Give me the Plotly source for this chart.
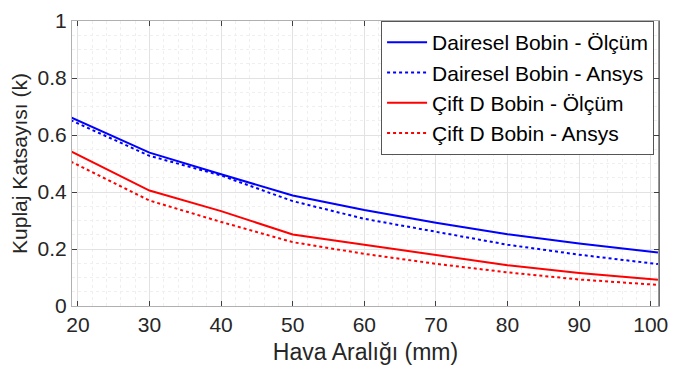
import plotly.graph_objects as go

gap_mm = [19, 30, 40, 50, 60, 70, 80, 90, 101]
dairesel_olcum = [0.662, 0.538, 0.462, 0.388, 0.337, 0.292, 0.252, 0.219, 0.188]
dairesel_ansys = [0.652, 0.527, 0.458, 0.368, 0.306, 0.260, 0.215, 0.180, 0.147]
ciftd_olcum = [0.543, 0.405, 0.333, 0.251, 0.215, 0.178, 0.143, 0.116, 0.092]
ciftd_ansys = [0.507, 0.370, 0.295, 0.224, 0.183, 0.148, 0.118, 0.093, 0.074]

names = ["Dairesel Bobin - Ölçüm", "Dairesel Bobin - Ansys",
         "Çift D Bobin - Ölçüm", "Çift D Bobin - Ansys"]
series = [dairesel_olcum, dairesel_ansys, ciftd_olcum, ciftd_ansys]
colors = ["#0000ff", "#0000ff", "#ff0000", "#ff0000"]
dashes = ["solid", "dot", "solid", "dot"]

FONT = "Liberation Sans, Arial, sans-serif"

fig = go.Figure()
for i, (n, s, c, d) in enumerate(zip(names, series, colors, dashes)):
    fig.add_trace(go.Scatter(x=gap_mm, y=s, name=n, mode="lines",
                             line=dict(color=c, width=2, dash=d)))

axis_common = dict(
    showline=True, linecolor="#b0b0b0", linewidth=1, mirror="ticks",
    ticks="inside", ticklen=5, tickcolor="#404040", tickwidth=1,
    showgrid=True, gridcolor="#e2e2e2", gridwidth=1,
    zeroline=False,
    tickfont=dict(family=FONT, size=21, color="#262626"),
)

fig.update_xaxes(range=[19.18, 101.15], tickvals=[20, 30, 40, 50, 60, 70, 80, 90, 100],
                 minor=dict(dtick=2, tick0=0, showgrid=True, gridcolor="#efefef", griddash="dot", ticks=""),
                 title=dict(text="Hava Aralığı (mm)", font=dict(family=FONT, size=23, color="#262626"), standoff=8),
                 **axis_common)
fig.update_yaxes(range=[0, 1], dtick=0.2,
                 minor=dict(dtick=0.05, tick0=0, showgrid=True, gridcolor="#efefef", griddash="dot", ticks=""),
                 title=dict(text="Kuplaj Katsayısı (k)", font=dict(family=FONT, size=21, color="#262626"), standoff=4),
                 **axis_common)

fig.add_shape(type="line", xref="paper", yref="paper", x0=1, x1=1, y0=0, y1=1,
              line=dict(color="#303030", width=1))

fig.update_layout(
    width=677, height=376,
    margin=dict(l=72, r=9, t=13, b=70),
    plot_bgcolor="white", paper_bgcolor="white",
    font=dict(family=FONT, color="#262626"),
    legend=dict(x=0.9916, xanchor="right", y=1.0, yanchor="top",
                bgcolor="white", bordercolor="#555555", borderwidth=1,
                font=dict(family=FONT, size=21, color="#000000"),
                tracegroupgap=0, itemwidth=40),
    showlegend=True,
)

fig.write_html("out.html")
